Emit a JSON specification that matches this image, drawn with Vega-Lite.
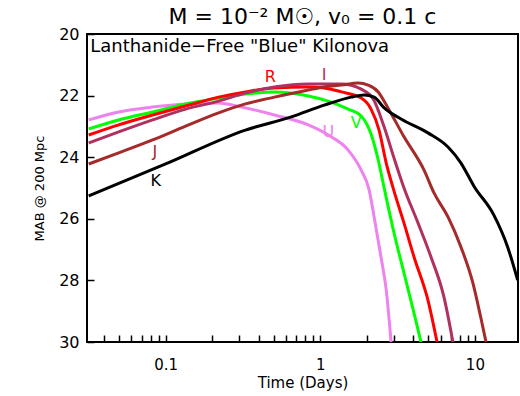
{
  "$schema": "https://vega.github.io/schema/vega-lite/v6.json",
  "autosize": {"type": "none"},
  "padding": {"left": 87, "top": 34, "right": 2, "bottom": 54},
  "width": 431,
  "height": 308,
  "background": "white",
  "config": {
    "font": "DejaVu Sans",
    "view": {"stroke": "black", "strokeWidth": 2},
    "axis": {"labelColor": "black", "titleColor": "black", "labelFont": "DejaVu Sans", "titleFont": "DejaVu Sans", "titleFontWeight": "normal"}
  },
  "title": {"text": "M  =  10⁻²  M☉,  v₀  =  0.1  c", "fontSize": 22, "fontWeight": "normal", "font": "DejaVu Sans", "color": "black", "anchor": "middle", "offset": -3},
  "datasets": {
    "curves": [
      {"band": "U", "t": 0.0318, "M": 22.79},
      {"band": "U", "t": 0.0497, "M": 22.53},
      {"band": "U", "t": 0.0824, "M": 22.37},
      {"band": "U", "t": 0.1346, "M": 22.27},
      {"band": "U", "t": 0.22, "M": 22.24},
      {"band": "U", "t": 0.309, "M": 22.37},
      {"band": "U", "t": 0.505, "M": 22.63},
      {"band": "U", "t": 0.837, "M": 22.95},
      {"band": "U", "t": 1.127, "M": 23.28},
      {"band": "U", "t": 1.516, "M": 23.77},
      {"band": "U", "t": 1.84, "M": 24.42},
      {"band": "U", "t": 2.07, "M": 25.06},
      {"band": "U", "t": 2.23, "M": 25.94},
      {"band": "U", "t": 2.47, "M": 27.24},
      {"band": "U", "t": 2.67, "M": 28.31},
      {"band": "U", "t": 2.87, "M": 30.0},
      {"band": "V", "t": 0.0318, "M": 23.08},
      {"band": "V", "t": 0.0497, "M": 22.79},
      {"band": "V", "t": 0.0824, "M": 22.53},
      {"band": "V", "t": 0.1346, "M": 22.27},
      {"band": "V", "t": 0.22, "M": 22.08},
      {"band": "V", "t": 0.328, "M": 21.95},
      {"band": "V", "t": 0.505, "M": 21.88},
      {"band": "V", "t": 0.837, "M": 22.01},
      {"band": "V", "t": 1.127, "M": 22.18},
      {"band": "V", "t": 1.516, "M": 22.44},
      {"band": "V", "t": 1.84, "M": 22.66},
      {"band": "V", "t": 2.13, "M": 23.25},
      {"band": "V", "t": 2.37, "M": 24.09},
      {"band": "V", "t": 2.59, "M": 25.0},
      {"band": "V", "t": 3.0, "M": 26.46},
      {"band": "V", "t": 3.48, "M": 27.76},
      {"band": "V", "t": 4.04, "M": 29.06},
      {"band": "V", "t": 4.48, "M": 30.0},
      {"band": "R", "t": 0.0318, "M": 23.28},
      {"band": "R", "t": 0.0497, "M": 22.95},
      {"band": "R", "t": 0.0824, "M": 22.63},
      {"band": "R", "t": 0.1346, "M": 22.34},
      {"band": "R", "t": 0.22, "M": 22.05},
      {"band": "R", "t": 0.328, "M": 21.88},
      {"band": "R", "t": 0.505, "M": 21.75},
      {"band": "R", "t": 0.837, "M": 21.72},
      {"band": "R", "t": 1.06, "M": 21.75},
      {"band": "R", "t": 1.37, "M": 21.88},
      {"band": "R", "t": 1.84, "M": 22.08},
      {"band": "R", "t": 2.13, "M": 22.44},
      {"band": "R", "t": 2.4, "M": 23.12},
      {"band": "R", "t": 2.67, "M": 24.19},
      {"band": "R", "t": 3.0, "M": 25.1},
      {"band": "R", "t": 3.48, "M": 26.14},
      {"band": "R", "t": 4.04, "M": 27.24},
      {"band": "R", "t": 4.97, "M": 28.64},
      {"band": "R", "t": 5.69, "M": 30.0},
      {"band": "I", "t": 0.0318, "M": 23.54},
      {"band": "I", "t": 0.0497, "M": 23.18},
      {"band": "I", "t": 0.0824, "M": 22.79},
      {"band": "I", "t": 0.1346, "M": 22.44},
      {"band": "I", "t": 0.22, "M": 22.18},
      {"band": "I", "t": 0.328, "M": 21.92},
      {"band": "I", "t": 0.505, "M": 21.72},
      {"band": "I", "t": 0.837, "M": 21.62},
      {"band": "I", "t": 1.37, "M": 21.62},
      {"band": "I", "t": 1.84, "M": 21.79},
      {"band": "I", "t": 2.2, "M": 22.11},
      {"band": "I", "t": 2.59, "M": 23.02},
      {"band": "I", "t": 3.0, "M": 24.03},
      {"band": "I", "t": 3.48, "M": 25.0},
      {"band": "I", "t": 4.29, "M": 26.14},
      {"band": "I", "t": 5.2, "M": 27.24},
      {"band": "I", "t": 6.31, "M": 28.54},
      {"band": "I", "t": 7.21, "M": 30.0},
      {"band": "J", "t": 0.0318, "M": 24.22},
      {"band": "J", "t": 0.0497, "M": 23.86},
      {"band": "J", "t": 0.0824, "M": 23.44},
      {"band": "J", "t": 0.1346, "M": 22.99},
      {"band": "J", "t": 0.22, "M": 22.56},
      {"band": "J", "t": 0.328, "M": 22.27},
      {"band": "J", "t": 0.505, "M": 22.05},
      {"band": "J", "t": 0.837, "M": 21.82},
      {"band": "J", "t": 1.06, "M": 21.72},
      {"band": "J", "t": 1.37, "M": 21.66},
      {"band": "J", "t": 1.76, "M": 21.59},
      {"band": "J", "t": 2.04, "M": 21.66},
      {"band": "J", "t": 2.37, "M": 21.88},
      {"band": "J", "t": 2.74, "M": 22.4},
      {"band": "J", "t": 3.48, "M": 23.34},
      {"band": "J", "t": 4.69, "M": 24.42},
      {"band": "J", "t": 5.44, "M": 25.16},
      {"band": "J", "t": 6.7, "M": 25.94},
      {"band": "J", "t": 8.13, "M": 26.92},
      {"band": "J", "t": 9.7, "M": 28.08},
      {"band": "J", "t": 10.9, "M": 29.19},
      {"band": "J", "t": 11.8, "M": 30.0},
      {"band": "K", "t": 0.0318, "M": 25.26},
      {"band": "K", "t": 0.1, "M": 24.22},
      {"band": "K", "t": 0.328, "M": 23.12},
      {"band": "K", "t": 0.65, "M": 22.69},
      {"band": "K", "t": 1.06, "M": 22.31},
      {"band": "K", "t": 1.585, "M": 22.05},
      {"band": "K", "t": 1.92, "M": 21.98},
      {"band": "K", "t": 2.23, "M": 22.05},
      {"band": "K", "t": 2.59, "M": 22.4},
      {"band": "K", "t": 3.33, "M": 22.76},
      {"band": "K", "t": 4.97, "M": 23.21},
      {"band": "K", "t": 6.7, "M": 23.67},
      {"band": "K", "t": 8.13, "M": 24.19},
      {"band": "K", "t": 9.86, "M": 24.94},
      {"band": "K", "t": 13.27, "M": 25.88},
      {"band": "K", "t": 16.3, "M": 26.92},
      {"band": "K", "t": 18.9, "M": 27.99}
    ],
    "labels": [
      {"band": "R", "t": 0.476, "M": 21.4},
      {"band": "I", "t": 1.06, "M": 21.33},
      {"band": "V", "t": 1.71, "M": 22.89},
      {"band": "U", "t": 1.127, "M": 23.18},
      {"band": "J", "t": 0.085, "M": 23.83},
      {"band": "K", "t": 0.0862, "M": 24.77}
    ],
    "note": [
      {"t": 0.0325, "M": 20.42, "text": "Lanthanide\u2212Free \"Blue\" Kilonova"}
    ]
  },
  "layer": [
    {
      "data": {"name": "curves"},
      "mark": {"type": "line", "strokeWidth": 3, "clip": true, "interpolate": "monotone"},
      "encoding": {
        "x": {"field": "t", "type": "quantitative",
          "scale": {"type": "log", "domain": [0.031, 19], "nice": false},
          "axis": {"title": "Time (Days)", "titleFontSize": 15, "titlePadding": 3,
            "domain": false, "grid": true, "gridOpacity": 0,
            "values": [0.04,0.05,0.06,0.07,0.08,0.09,0.1,0.2,0.3,0.4,0.5,0.6,0.7,0.8,0.9,1,2,3,4,5,6,7,8,9,10],
            "labelExpr": "datum.value == 0.1 ? '0.1' : datum.value == 1 ? '1' : datum.value == 10 ? '10' : ''",
            "labelFontSize": 15, "labelPadding": 22,
            "tickSize": -7, "tickColor": "black", "tickWidth": 1.5}},
        "y": {"field": "M", "type": "quantitative",
          "scale": {"domain": [20, 30], "reverse": true, "nice": false, "zero": false},
          "axis": {"title": "MAB @ 200 Mpc", "titleFontSize": 13, "titlePadding": 12,
            "domain": false, "grid": true, "gridOpacity": 0,
            "values": [20,20.5,21,21.5,22,22.5,23,23.5,24,24.5,25,25.5,26,26.5,27,27.5,28,28.5,29,29.5,30],
            "labelExpr": "datum.value % 2 == 0 ? format(datum.value, 'd') : ''",
            "labelFontSize": 16, "labelPadding": 15,
            "tickSize": -7, "tickColor": "black", "tickWidth": 1.5}},
        "color": {"field": "band", "type": "nominal", "legend": null,
          "scale": {"domain": ["U","V","R","I","J","K"], "range": ["#ee82ee","#00ff00","#ff0000","#b03060","#a52a2a","#000000"]}}
      }
    },
    {
      "data": {"name": "labels"},
      "mark": {"type": "text", "fontSize": 16, "align": "center", "baseline": "middle"},
      "encoding": {
        "x": {"field": "t", "type": "quantitative"},
        "y": {"field": "M", "type": "quantitative"},
        "text": {"field": "band"},
        "color": {"field": "band", "type": "nominal", "legend": null}
      }
    },
    {
      "data": {"name": "note"},
      "mark": {"type": "text", "fontSize": 18, "align": "left", "baseline": "middle", "color": "black"},
      "encoding": {
        "x": {"field": "t", "type": "quantitative"},
        "y": {"field": "M", "type": "quantitative"},
        "text": {"field": "text"}
      }
    }
  ]
}
